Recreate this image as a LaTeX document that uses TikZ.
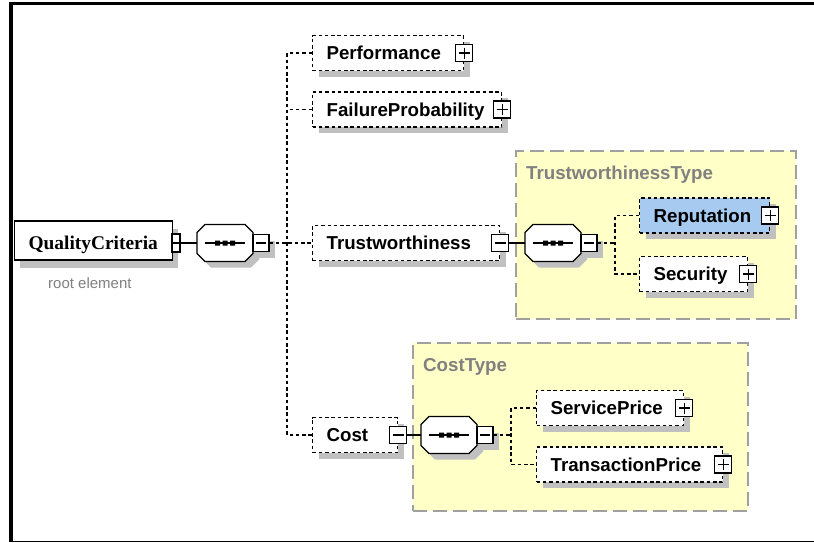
\documentclass[tikz,border=0pt]{standalone}
\usepackage{fontspec}
\usetikzlibrary{shadows}
\newfontfamily\lsans{Liberation Sans}
\newfontfamily\lserif{Liberation Serif}
\definecolor{shadowc}{RGB}{192,192,192}
\definecolor{grpfill}{RGB}{255,255,200}
\definecolor{grpline}{RGB}{160,160,160}
\definecolor{titlec}{RGB}{128,128,128}
\definecolor{selblue}{RGB}{166,202,240}
\tikzset{
  elem/.style={draw=black, line width=1.2pt, dash pattern=on 3.5pt off 2.8pt, fill=white,
    anchor=west, minimum height=35pt, inner xsep=14pt, inner ysep=0pt,
    text height=13.4pt, text depth=0pt, align=left,
    font=\lsans\bfseries\fontsize{18.7pt}{20pt}\selectfont,
    drop shadow={shadow xshift=6pt, shadow yshift=-6pt, fill=shadowc, opacity=1}},
  pmbox/.style={draw=black, solid, line width=1.1pt, fill=white, minimum width=17pt,
    minimum height=17pt, inner sep=0pt},
  minusbox/.style={pmbox, path picture={\draw[line width=1.1pt]
    ([xshift=3pt]path picture bounding box.west) -- ([xshift=-3pt]path picture bounding box.east);}},
  plusbox/.style={pmbox, path picture={\draw[line width=1.1pt]
    ([xshift=3pt]path picture bounding box.west) -- ([xshift=-3pt]path picture bounding box.east)
    ([yshift=-3pt]path picture bounding box.north) -- ([yshift=3pt]path picture bounding box.south);}},
  rootpm/.style={pmbox, minimum width=8pt, minimum height=18pt, path picture={\draw[line width=1.1pt]
    (path picture bounding box.west) -- (path picture bounding box.east);}},
  conn/.style={draw=black, line width=1.1pt},
  dconn/.style={conn, line width=1.2pt, dash pattern=on 3.5pt off 2.8pt},
  grp/.style={draw=grpline, fill=grpfill, line width=1.5pt, dash pattern=on 14pt off 6pt,
    anchor=north west, inner sep=0pt},
  grptitle/.style={anchor=base west, inner sep=0pt, text=titlec,
    font=\lsans\bfseries\fontsize{18.7pt}{20pt}\selectfont},
  seqsym/.pic={
    \fill[shadowc] (-14,-12.5) -- (26,-12.5) -- (34,-4.5) -- (34,16.5) -- (26,24.5)
      -- (-14,24.5) -- (-22,16.5) -- (-22,-4.5) -- cycle;
    \fill[shadowc] (34,-2.5) rectangle (50,14.5);
    \draw[conn, fill=white] (-20,-18.5) -- (20,-18.5) -- (28,-10.5) -- (28,10.5) -- (20,18.5)
      -- (-20,18.5) -- (-28,10.5) -- (-28,-10.5) -- cycle;
    \draw[conn] (-20,0) -- (20,0);
    \fill (-10,-2.5) rectangle (-5,2.5) (-2.5,-2.5) rectangle (2.5,2.5) (5,-2.5) rectangle (10,2.5);
    \node[inner sep=0pt, minimum width=56pt, minimum height=37pt] (-box) at (0,0) {};
    \node[minusbox, minimum width=16pt] (-pm) at (36,0) {};
  }
}
\begin{document}
\begin{tikzpicture}[x=1pt, y=-1pt]
\useasboundingbox (0,0) rectangle (814,542);
% frame
\fill[white] (0,0) rectangle (814,542);
\fill[black] (9,2) rectangle (13,542);
\fill[black] (9,2) rectangle (814,5);
\fill[black] (9,540.6) rectangle (814,541.8);

% groups
\node[grp, minimum width=280pt, minimum height=168pt] (ttgrp) at (515,150) {};
\node[grptitle] (tttitle) at (526,179.7) {TrustworthinessType};
\node[grp, minimum width=335pt, minimum height=168pt] (ctgrp) at (412,342) {};
\node[grptitle] (cttitle) at (423,371.7) {CostType};

% root
\node[draw=black, line width=1.1pt, fill=white, anchor=west, minimum height=39pt,
  inner xsep=14pt, inner ysep=0pt, text width=130pt, align=left,
  text height=17pt, text depth=0pt,
  font=\lserif\bfseries\fontsize{19.4pt}{21pt}\selectfont,
  drop shadow={shadow xshift=5pt, shadow yshift=-8pt, fill=shadowc, opacity=1}]
  (qc) at (14,240.5) {QualityCriteria};
\node[rootpm] (qcpm) at (176,243) {};
\node[anchor=base west, inner sep=0pt, text=titlec,
  font=\lsans\fontsize{15pt}{17pt}\selectfont] (rootlbl) at (48,288) {root element};

% elements
\node[elem, text width=123pt] (perf) at (312,53) {Performance};
\node[plusbox] (perfpm) at (perf.east) {};
\node[elem, text width=161pt] (fail) at (312,109.5) {FailureProbability};
\node[plusbox] (failpm) at (fail.east) {};
\node[elem, text width=159pt] (trust) at (312,243) {Trustworthiness};
\node[minusbox] (trustpm) at (trust.east) {};
\node[elem, text width=57pt] (cost) at (312,435) {Cost};
\node[minusbox] (costpm) at (cost.east) {};
\node[elem, text width=102pt, fill=selblue] (rep) at (639,215.5) {Reputation};
\node[plusbox] (reppm) at (rep.east) {};
\node[elem, text width=80pt] (sec) at (639,274) {Security};
\node[plusbox] (secpm) at (sec.east) {};
\node[elem, text width=119pt] (sp) at (536,408) {ServicePrice};
\node[plusbox] (sppm) at (sp.east) {};
\node[elem, text width=158pt] (tp) at (536,464.5) {TransactionPrice};
\node[plusbox] (tppm) at (tp.east) {};

% sequences
\pic (s1) at (225,243) {seqsym};
\pic (s2) at (553,243) {seqsym};
\pic (s3) at (449,435) {seqsym};

% connectors
\coordinate (j1) at (287,243);
\coordinate (j2) at (615,243);
\coordinate (j3) at (511,435);
\draw[conn] (qcpm.east) -- (s1-box.west);
\draw[dconn] (s1-pm.east) -- (trust.west);
\draw[dconn] (perf.west) -| (j1) |- (cost.west);
\draw[dconn] (fail.west) -- (fail.west -| j1);

\draw[conn] (trustpm.east) -- (s2-box.west);
\draw[dconn] (s2-pm.east) -- (j2);
\draw[dconn] (rep.west) -| (j2) |- (sec.west);

\draw[conn] (costpm.east) -- (s3-box.west);
\draw[dconn] (s3-pm.east) -- (j3);
\draw[dconn] (sp.west) -| (j3) |- (tp.west);
\end{tikzpicture}
\end{document}
